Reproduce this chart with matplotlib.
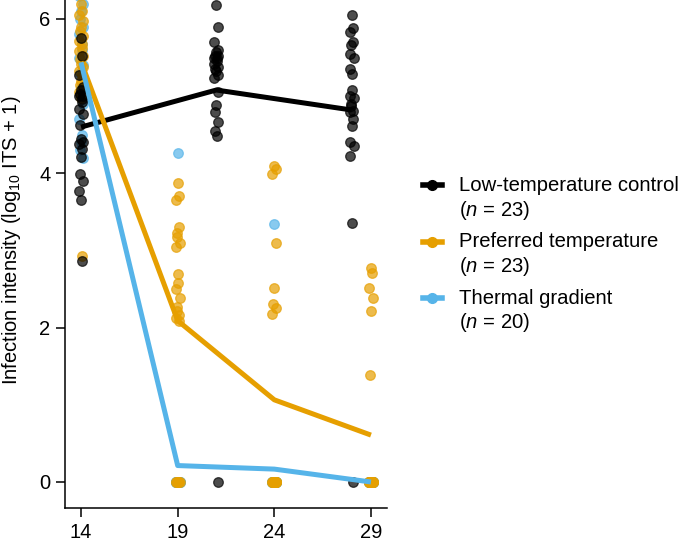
import numpy as np
import matplotlib.pyplot as plt
from matplotlib.lines import Line2D

plt.rcParams['font.family'] = ['Liberation Sans', 'DejaVu Sans']
plt.rcParams['mathtext.fontset'] = 'custom'
plt.rcParams['mathtext.rm'] = 'Liberation Sans'
plt.rcParams['mathtext.it'] = 'Liberation Sans:italic'

# infection intensity, log10(ITS + 1), one list per sampling day
ctrl_days = [14, 21, 28]
ctrl_vals = [
    [5.75, 5.52, 5.27, 5.12, 5.08, 5.03, 5.0, 5.0, 4.96, 4.92, 4.83, 4.77,
     4.62, 4.45, 4.40, 4.38, 4.31, 4.21, 3.99, 3.90, 3.77, 3.65, 2.86],
    [6.18, 5.90, 5.70, 5.60, 5.57, 5.52, 5.52, 5.50, 5.49, 5.45, 5.42, 5.38,
     5.35, 5.32, 5.28, 5.23, 5.05, 4.88, 4.79, 4.66, 4.55, 4.49, 0.0],
    [6.05, 5.88, 5.83, 5.70, 5.66, 5.55, 5.49, 5.35, 5.29, 5.08, 5.0, 4.97,
     4.90, 4.87, 4.81, 4.80, 4.70, 4.61, 4.40, 4.35, 4.22, 3.36, 0.0],
]

pref_days = [14, 19, 24, 29]
pref_vals = [
    [6.2, 6.1, 6.05, 5.98, 5.9, 5.85, 5.78, 5.72, 5.68, 5.62, 5.58, 5.52,
     5.48, 5.42, 5.38, 5.32, 5.28, 5.2, 5.15, 5.12, 5.05, 4.98, 2.93],
    [3.88, 3.71, 3.65, 3.30, 3.23, 3.17, 3.10, 3.05, 2.69, 2.58, 2.5, 2.39,
     2.27, 2.21, 2.16, 2.12, 2.08] + [0.0] * 6,
    [4.09, 4.05, 3.99, 3.10, 2.51, 2.31, 2.26, 2.18] + [0.0] * 15,
    [2.77, 2.71, 2.52, 2.38, 2.21, 1.39] + [0.0] * 17,
]

grad_days = [14, 19, 24, 29]
grad_vals = [
    [6.5, 6.4, 6.3, 6.2, 6.1, 6.0, 5.9, 5.8, 5.67, 5.6, 5.5, 5.4, 5.3, 5.1,
     4.9, 4.7, 4.5, 4.4, 4.3, 4.2],
    [4.26] + [0.0] * 19,
    [3.34] + [0.0] * 19,
    [0.0] * 20,
]

groups = [
    ('Low-temperature control', 23, '#000000', ctrl_days, ctrl_vals),
    ('Preferred temperature', 23, '#E69F00', pref_days, pref_vals),
    ('Thermal gradient', 20, '#56B4E9', grad_days, grad_vals),
]

fig = plt.figure(figsize=(6.85, 5.5), dpi=100)
ax = fig.add_axes([65 / 685, 42 / 550, 322 / 685, 508 / 550])


def jitter(n, width):
    # fixed, evenly scrambled offsets so the dots do not stack
    return width * np.sin(np.arange(n) * 2.39996)


# points: gradient first, control on top
for name, n, col, days, vals in reversed(groups):
    for d, v in zip(days, vals):
        v = np.asarray(v)
        ax.scatter(d + jitter(len(v), 0.11), v, s=48, color=col, alpha=0.7,
                   linewidths=0.9, edgecolors=col, zorder=2)

# group means
for k, (name, n, col, days, vals) in enumerate(groups):
    means = [np.mean(v) for v in vals]
    ax.plot(days, means, color=col, lw=3.6, solid_capstyle='butt',
            solid_joinstyle='round', zorder=3 + k)

ax.set_xlim(13.17, 29.83)
ax.set_ylim(-0.337, 6.246)
ax.set_xticks([14, 19, 24, 29])
ax.set_yticks([0, 2, 4, 6])
for s in ('top', 'right'):
    ax.spines[s].set_visible(False)
for s in ('left', 'bottom'):
    ax.spines[s].set_linewidth(1.1)
ax.tick_params(length=6.5, width=1.1, labelsize=14.5, pad=4)
ax.set_ylabel(r'Infection intensity (log$_{10}$ ITS + 1)', fontsize=14.5)
ax.yaxis.set_label_coords(-0.13, 0.527)

# legend, drawn by hand so the key sits on the first text line
for (name, n, col, days, vals), ypx in zip(groups, [185, 242, 298]):
    y = 1 - ypx / 550
    fig.add_artist(Line2D([423 / 685, 432.5 / 685, 442 / 685], [y, y, y],
                          color=col, lw=4, marker='o', markersize=7,
                          markevery=[1], transform=fig.transFigure))
    fig.text(459 / 685, y, name, fontsize=14.6, va='center')
    fig.text(459 / 685, 1 - (ypx + 25) / 550, r'($\mathit{n}$ = %d)' % n,
             fontsize=14.6, va='center')

fig.savefig('out.png', dpi=100)
